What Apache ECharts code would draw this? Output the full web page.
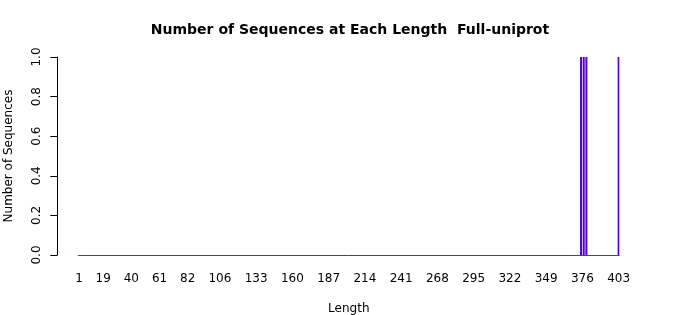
<!DOCTYPE html>
<html>
<head>
<meta charset="utf-8">
<script src="https://cdn.jsdelivr.net/npm/echarts@6/dist/echarts.min.js"></script>
<style>html,body{margin:0;padding:0;background:#fff}#c{width:700px;height:315px}</style>
</head>
<body>
<div id="c"></div>
<script>
var minLength = 1;
var maxLength = 403;
var barLengths = [375, 377, 379, 403];
var barCounts = [1, 1, 1, 1];
var tickLabels = ['1','19','40','61','82','106','133','160','187','214','241','268','295','322','349','376','403'];

var categories = [];
for (var L = minLength; L <= maxLength; L++) categories.push(String(L));
var counts = {};
barLengths.forEach(function (l, i) { counts[l] = barCounts[i]; });
var values = categories.map(function (c) { return counts[c] || 0; });
var showSet = {};
tickLabels.forEach(function (t) { showSet[t] = true; });

var font = 'DejaVu Sans';
var chart = echarts.init(document.getElementById('c'), null, {renderer: 'canvas'});
chart.setOption({
  animation: false,
  backgroundColor: '#ffffff',
  title: {
    text: 'Number of Sequences at Each Length  Full-uniprot',
    left: 'center', top: 18,
    textStyle: {fontFamily: font, fontSize: 14, fontWeight: 'bold', color: '#000'}
  },
  grid: {left: 78.3, width: 541, top: 57, bottom: 60, containLabel: false, outerBoundsMode: 'none'},
  xAxis: {
    type: 'category',
    data: categories,
    name: 'Length', nameLocation: 'middle', nameGap: 48,
    nameTextStyle: {fontFamily: font, fontSize: 12, color: '#000'},
    axisLine: {show: true, lineStyle: {color: '#3a3ad8', width: 1}},
    axisTick: {show: false},
    axisLabel: {
      interval: function (i, v) { return !!showSet[v]; },
      fontFamily: font, fontSize: 12, color: '#000', margin: 18
    },
    splitLine: {show: false}
  },
  yAxis: {
    type: 'value', min: 0, max: 1, interval: 0.2,
    offset: 21,
    name: 'Number of Sequences', nameLocation: 'middle', nameGap: 42,
    nameTextStyle: {fontFamily: font, fontSize: 12, color: '#000'},
    axisLine: {show: true, lineStyle: {color: '#000', width: 1}},
    axisTick: {show: true, length: 7, lineStyle: {color: '#000'}},
    axisLabel: {
      rotate: 90, fontFamily: font, fontSize: 12, color: '#000', margin: 14,
      formatter: function (v) { return v.toFixed(1); }
    },
    splitLine: {show: false}
  },
  series: [{
    type: 'bar',
    data: values,
    barWidth: 2,
    itemStyle: {color: '#5200d0'}
  }]
});
</script>
</body>
</html>
